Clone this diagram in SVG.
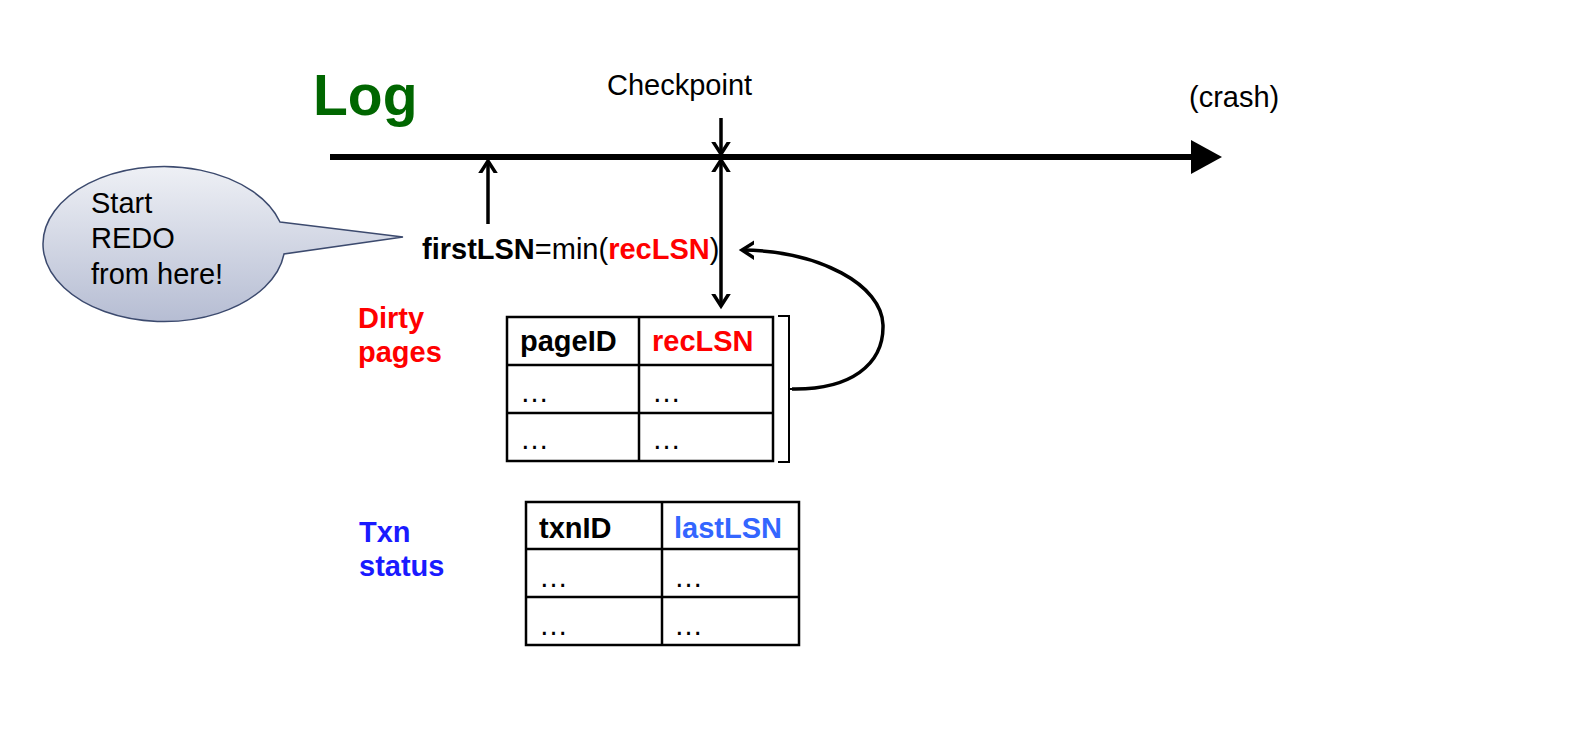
<svg xmlns="http://www.w3.org/2000/svg" width="1584" height="748" viewBox="0 0 1584 748">
<defs>
<style>
text{font-family:"Liberation Sans",Arial,sans-serif;font-size:29px;fill:#000}
.b{font-weight:bold}
.red{fill:#ff0000}
.blue{fill:#1a1aff}
.lblue{fill:#3366ff}
.conn{fill:none;stroke:#000;stroke-width:3.5}
.grid{fill:none;stroke:#000;stroke-width:2.5}
</style>
<marker id="chev" markerUnits="userSpaceOnUse" viewBox="-12 -12 24 24" markerWidth="24" markerHeight="24" refX="0" refY="0" orient="auto-start-reverse">
<path d="M -14 -9 L 0 0 L -14 9" fill="none" stroke="#000" stroke-width="3.5"/>
</marker>
<linearGradient id="bub" x1="0" y1="0" x2="0" y2="1">
<stop offset="0" stop-color="#eef0f5"/>
<stop offset="1" stop-color="#b6bdd3"/>
</linearGradient>
</defs>
<rect width="1584" height="748" fill="#fff"/>

<g id="log-title">
<text x="313" y="115" class="b" style="font-size:57px;fill:#006600">Log</text>
</g>

<g id="log-line">
<line x1="330" y1="157" x2="1193" y2="157" stroke="#000" stroke-width="6"/>
<polygon points="1191,140 1222,157 1191,174" fill="#000"/>
</g>

<g id="checkpoint">
<text x="607" y="95">Checkpoint</text>
</g>

<g id="crash">
<text x="1189" y="107">(crash)</text>
</g>

<g id="callout">
<path d="M 280 222 L 403 237 L 284 254 A 121 77.5 0 1 1 280 222 Z" fill="url(#bub)" stroke="#3c4a6e" stroke-width="1.5"/>
<text x="91" y="213">Start</text>
<text x="91" y="248">REDO</text>
<text x="91" y="284">from here!</text>
</g>

<g id="firstLSN">
<text x="422" y="259"><tspan class="b">firstLSN</tspan>=min(<tspan class="b red">recLSN</tspan>)</text>
</g>

<g id="dirty-label">
<text x="358" y="328" class="b red">Dirty</text>
<text x="358" y="362" class="b red">pages</text>
</g>

<g id="dirty-table">
<rect x="507" y="317" width="266" height="144" class="grid"/>
<line x1="639" y1="317" x2="639" y2="461" class="grid"/>
<line x1="507" y1="365" x2="773" y2="365" class="grid"/>
<line x1="507" y1="413" x2="773" y2="413" class="grid"/>
<text x="520" y="351" class="b">pageID</text>
<text x="652" y="351" class="b red">recLSN</text>
<text x="520" y="402">…</text>
<text x="652" y="402">…</text>
<text x="520" y="449">…</text>
<text x="652" y="449">…</text>
<path d="M 778 316 L 789 316 L 789 462 L 778 462 M 789 389 L 793 389" fill="none" stroke="#000" stroke-width="2"/>
</g>

<g id="txn-label">
<text x="359" y="542" class="b blue">Txn</text>
<text x="359" y="576" class="b blue">status</text>
</g>

<g id="txn-table">
<rect x="526" y="502" width="273" height="143" class="grid"/>
<line x1="662" y1="502" x2="662" y2="645" class="grid"/>
<line x1="526" y1="549" x2="799" y2="549" class="grid"/>
<line x1="526" y1="597" x2="799" y2="597" class="grid"/>
<text x="539" y="538" class="b">txnID</text>
<text x="674" y="538" class="b lblue">lastLSN</text>
<text x="539" y="587">…</text>
<text x="674" y="587">…</text>
<text x="539" y="635">…</text>
<text x="674" y="635">…</text>
</g>

<g id="connectors">
<line x1="721" y1="118" x2="721" y2="154" class="conn" marker-end="url(#chev)"/>
<line x1="721" y1="160" x2="721" y2="306" class="conn" marker-start="url(#chev)" marker-end="url(#chev)"/>
<line x1="488" y1="224" x2="488" y2="161" class="conn" marker-end="url(#chev)"/>
<path d="M 792 389 C 850 390, 884 365, 883 325 C 882 285, 820 251, 742 250" class="conn" marker-end="url(#chev)"/>
</g>
</svg>
